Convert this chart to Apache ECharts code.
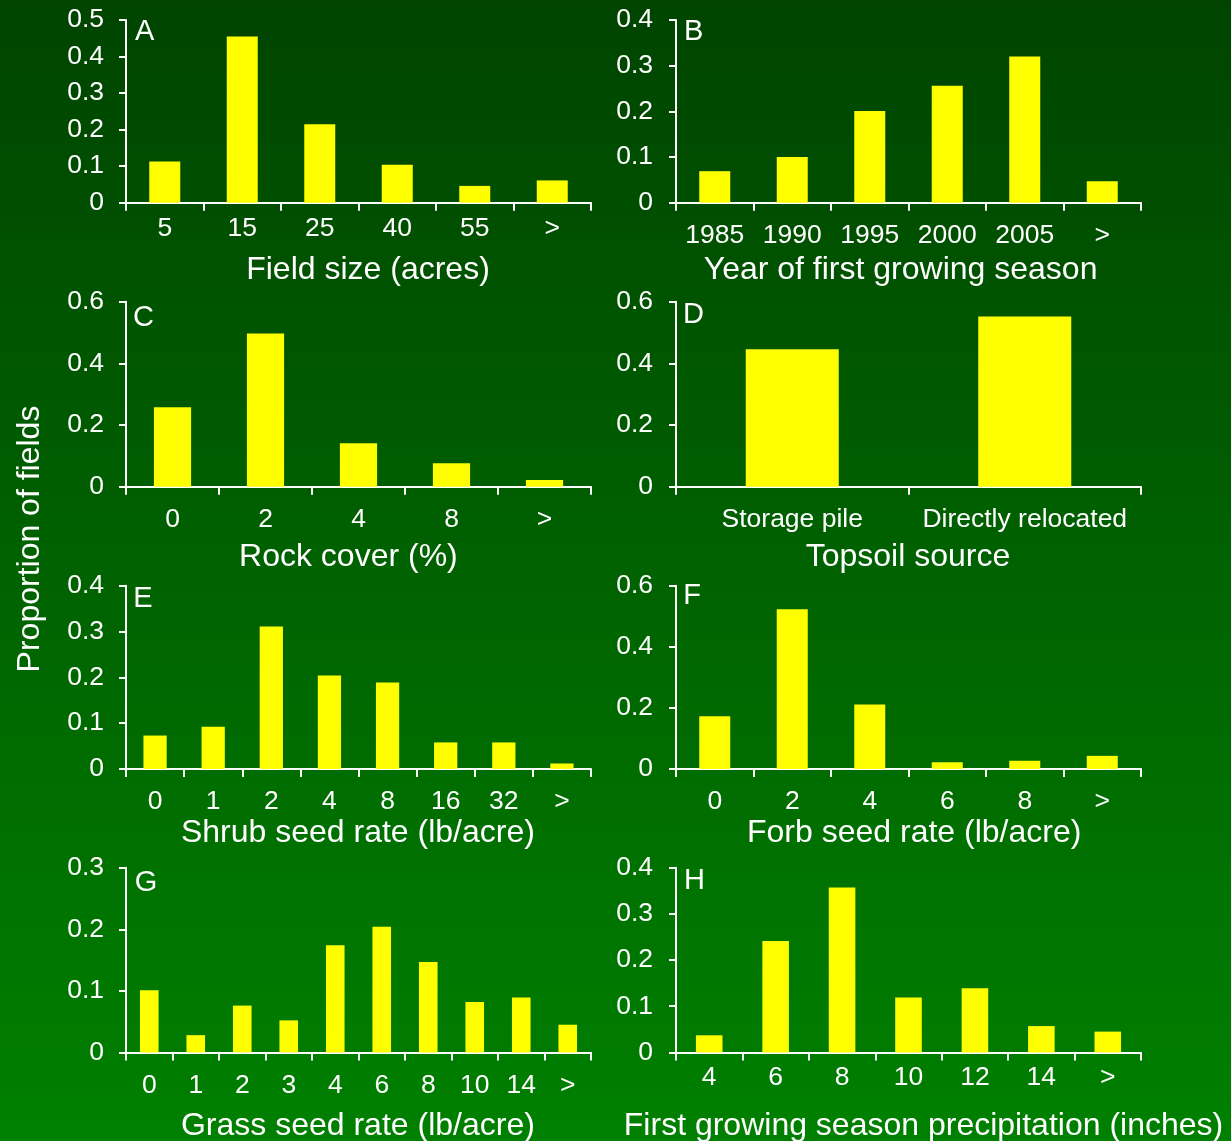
<!DOCTYPE html>
<html>
<head>
<meta charset="utf-8">
<title>Proportion of fields</title>
<script src="https://cdn.jsdelivr.net/npm/echarts@6/dist/echarts.min.js"></script>
<style>
  html, body { margin: 0; padding: 0; background: #006000; }
  #chart { width: 1231px; height: 1141px; }
</style>
</head>
<body>
<div id="chart"></div>
<script>
// ---- data: proportion of fields per class ----
const fieldSizeCats = ['5', '15', '25', '40', '55', '>'];
const fieldSizeVals = [0.113, 0.455, 0.215, 0.104, 0.046, 0.061];

const yearCats = ['1985', '1990', '1995', '2000', '2005', '>'];
const yearVals = [0.069, 0.100, 0.201, 0.256, 0.320, 0.047];

const rockCats = ['0', '2', '4', '8', '>'];
const rockVals = [0.258, 0.497, 0.141, 0.076, 0.022];

const topsoilCats = ['Storage pile', 'Directly relocated'];
const topsoilVals = [0.446, 0.552];

const shrubCats = ['0', '1', '2', '4', '8', '16', '32', '>'];
const shrubVals = [0.073, 0.092, 0.311, 0.204, 0.189, 0.058, 0.058, 0.012];

const forbCats = ['0', '2', '4', '6', '8', '>'];
const forbVals = [0.173, 0.523, 0.211, 0.022, 0.027, 0.043];

const grassCats = ['0', '1', '2', '3', '4', '6', '8', '10', '14', '>'];
const grassVals = [0.101, 0.028, 0.076, 0.052, 0.174, 0.204, 0.147, 0.082, 0.089, 0.045];

const precipCats = ['4', '6', '8', '10', '12', '14', '>'];
const precipVals = [0.037, 0.241, 0.357, 0.119, 0.139, 0.057, 0.045];

const panelLetters = ['A', 'B', 'C', 'D', 'E', 'F', 'G', 'H'];
const axisTitles = [
  'Field size (acres)', 'Year of first growing season',
  'Rock cover (%)', 'Topsoil source',
  'Shrub seed rate (lb/acre)', 'Forb seed rate (lb/acre)',
  'Grass seed rate (lb/acre)', 'First growing season precipitation (inches)'
];
const yMax = [0.5, 0.4, 0.6, 0.6, 0.4, 0.6, 0.3, 0.4];
const yStep = [0.1, 0.1, 0.2, 0.2, 0.1, 0.2, 0.1, 0.1];
const yTitle = 'Proportion of fields';

const panelCats = [fieldSizeCats, yearCats, rockCats, topsoilCats, shrubCats, forbCats, grassCats, precipCats];
const panelVals = [fieldSizeVals, yearVals, rockVals, topsoilVals, shrubVals, forbVals, grassVals, precipVals];

// ---- layout ----
const FONT = "'Liberation Sans', Arial, Helvetica, sans-serif";
const WHITE = '#ffffff';
const TICK_FONT = 26.5;
const TITLE_FONT = 32;
const colLeft = [126, 676];
const plotWidth = 465;
const rowTop = [20, 301.7, 585.7, 867.7];
const rowHeight = [182.7, 185, 183.3, 184.7];
const xLabelMargin = [12, 19.5, 19.5, 19.5, 19.5, 19.5, 19.5, 12];
const yLabelMargin = [22, 23];
// centre points of the axis titles and panel letters
const titlePos = [[368, 270], [900.6, 270], [348.4, 557], [907.9, 557], [357.9, 833.5], [914.2, 833.5], [357.9, 1126], [923.5, 1126]];
const letterPos = [[135, 32], [684, 32], [133, 317.5], [683, 314.5], [133.3, 598.5], [683.3, 596], [134.7, 883], [684, 880.5]];

const grids = [], xAxes = [], yAxes = [], series = [], graphics = [];

panelCats.forEach((cats, i) => {
  const col = i % 2, row = Math.floor(i / 2);
  grids.push({ left: colLeft[col], top: rowTop[row], width: plotWidth, height: rowHeight[row] });
  xAxes.push({
    type: 'category', gridIndex: i, data: cats,
    axisLine: { show: true, lineStyle: { color: WHITE, width: 2 } },
    axisTick: { show: true, length: 8, lineStyle: { color: WHITE, width: 2 } },
    axisLabel: { interval: 0, color: WHITE, fontSize: TICK_FONT, fontFamily: FONT, margin: xLabelMargin[i] },
    splitLine: { show: false }
  });
  yAxes.push({
    type: 'value', gridIndex: i, min: 0, max: yMax[i], interval: yStep[i],
    axisLine: { show: true, lineStyle: { color: WHITE, width: 2 } },
    axisTick: { show: true, length: 7, lineStyle: { color: WHITE, width: 2 } },
    axisLabel: { color: WHITE, fontSize: TICK_FONT, fontFamily: FONT, margin: yLabelMargin[col] },
    splitLine: { show: false }
  });
  series.push({
    type: 'bar', xAxisIndex: i, yAxisIndex: i, data: panelVals[i],
    barCategoryGap: '60%',
    itemStyle: { color: '#ffff00' },
    silent: true
  });
  graphics.push({
    type: 'text', x: titlePos[i][0], y: titlePos[i][1],
    style: { text: axisTitles[i], fill: WHITE, fontSize: TITLE_FONT, fontFamily: FONT,
             align: 'center', verticalAlign: 'middle', textAlign: 'center', textVerticalAlign: 'middle' }
  });
  graphics.push({
    type: 'text', x: letterPos[i][0], y: letterPos[i][1],
    style: { text: panelLetters[i], fill: WHITE, fontSize: 29, fontFamily: FONT,
             align: 'left', verticalAlign: 'middle', textAlign: 'left', textVerticalAlign: 'middle' }
  });
});

graphics.push({
  type: 'text', x: 30, y: 539, rotation: Math.PI / 2,
  style: { text: yTitle, fill: WHITE, fontSize: 32, fontFamily: FONT,
           align: 'center', verticalAlign: 'middle', textAlign: 'center', textVerticalAlign: 'middle' }
});

const chart = echarts.init(document.getElementById('chart'), null, { renderer: 'canvas' });
chart.setOption({
  animation: false,
  backgroundColor: new echarts.graphic.LinearGradient(0, 0, 0, 1, [
    { offset: 0, color: '#004400' },
    { offset: 1, color: '#008000' }
  ]),
  grid: grids,
  xAxis: xAxes,
  yAxis: yAxes,
  series: series,
  graphic: graphics
});
</script>
</body>
</html>
